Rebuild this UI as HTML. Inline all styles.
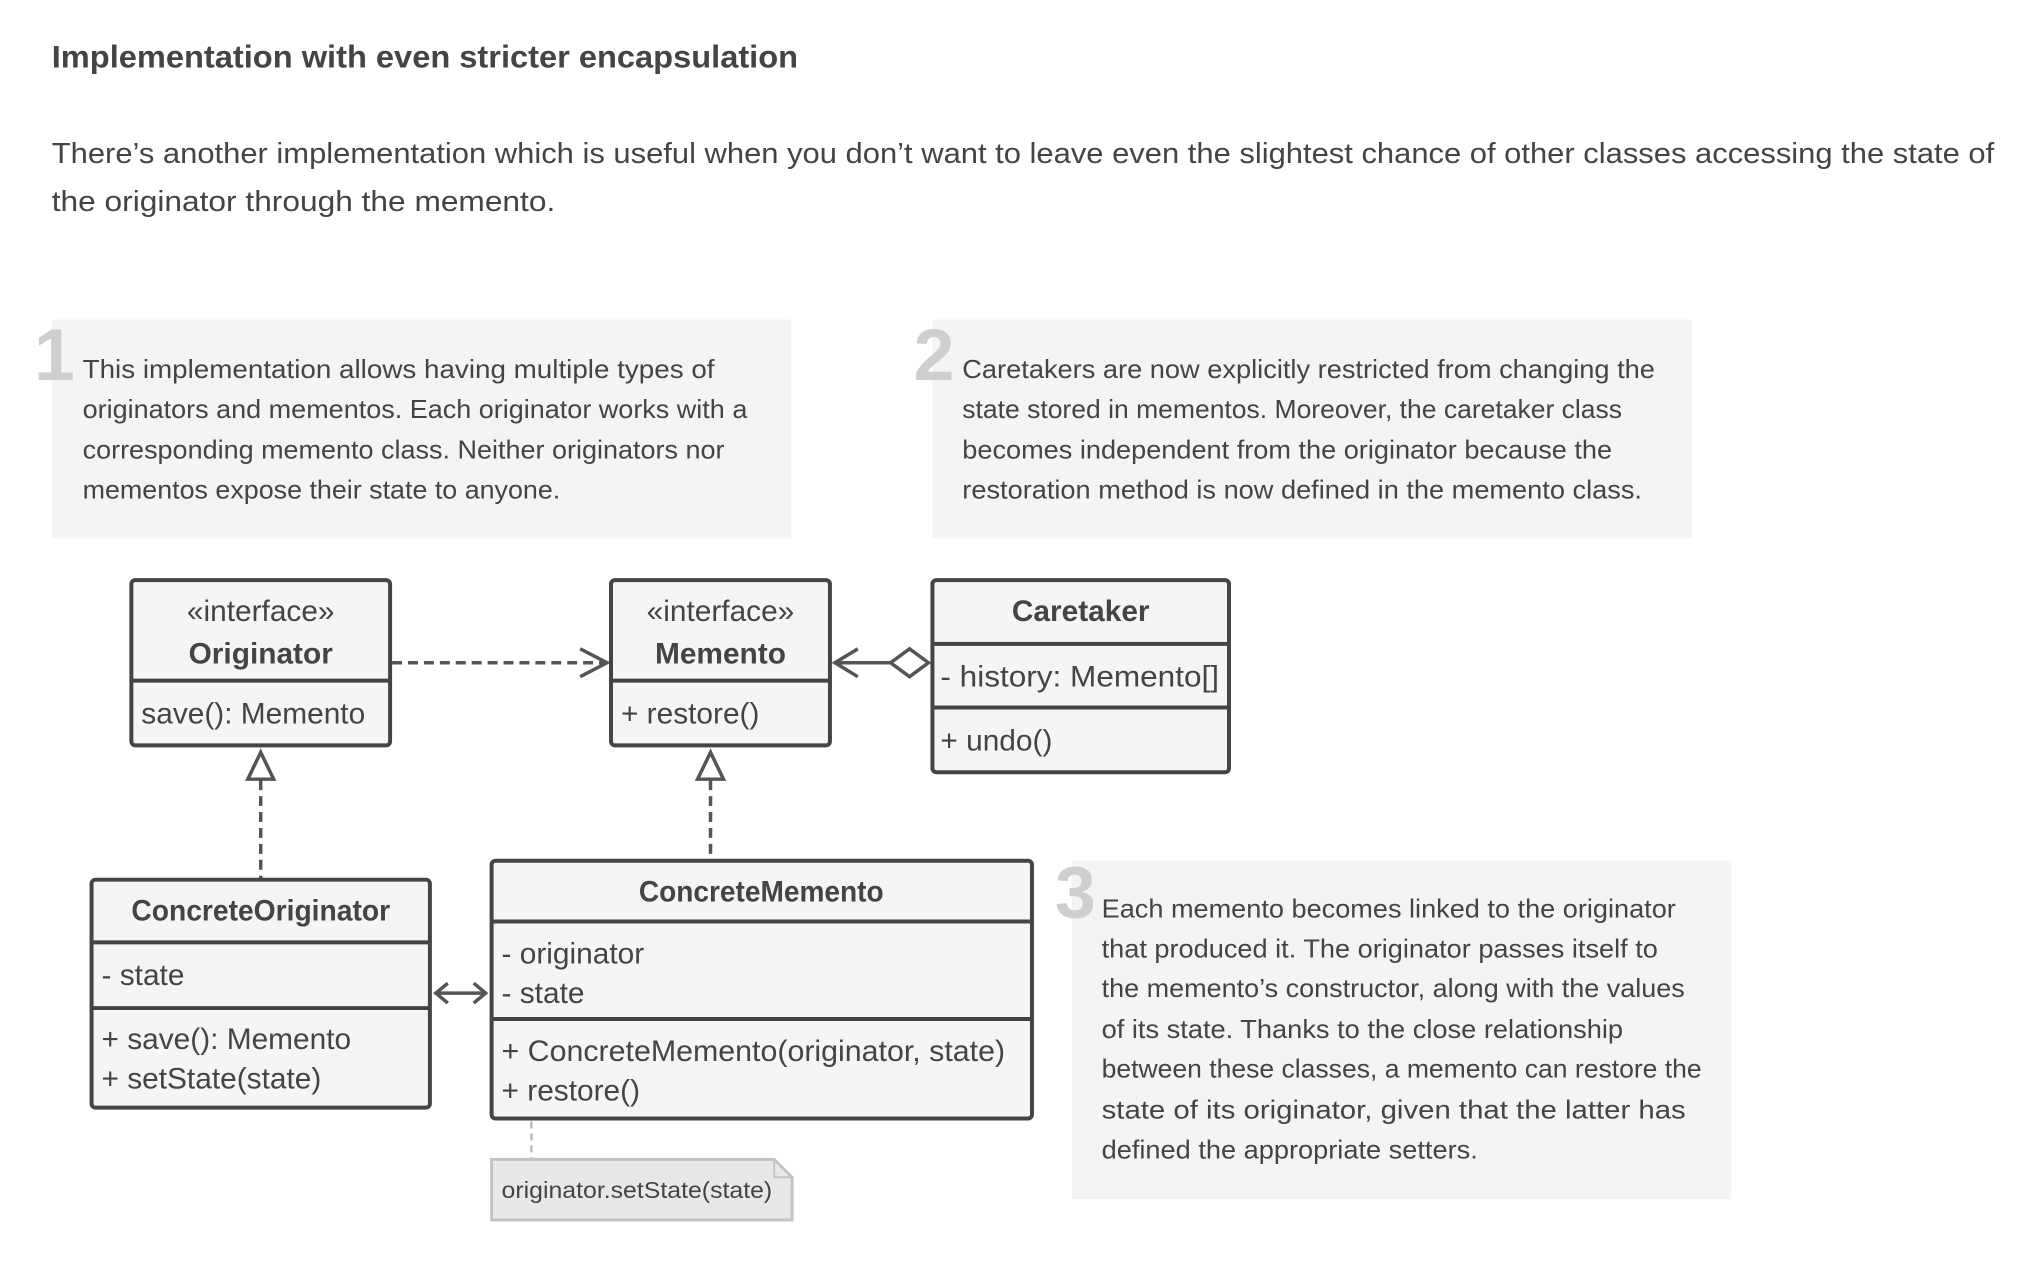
<!DOCTYPE html>
<html><head><meta charset="utf-8"><style>
html,body{margin:0;padding:0;background:#fff;}
svg{display:block;}
text{font-family:"Liberation Sans",sans-serif;fill:#444;}
</style></head><body>
<svg width="2044" height="1262" viewBox="0 0 2054 1268" preserveAspectRatio="xMinYMin meet" xmlns="http://www.w3.org/2000/svg">
<text x="52" y="68" font-size="32" font-weight="bold" fill="#444" textLength="750" lengthAdjust="spacingAndGlyphs">Implementation with even stricter encapsulation</text>
<text x="52" y="164" font-size="29" textLength="1952" lengthAdjust="spacingAndGlyphs">There’s another implementation which is useful when you don’t want to leave even the slightest chance of other classes accessing the state of</text>
<text x="52" y="212" font-size="29" textLength="506" lengthAdjust="spacingAndGlyphs">the originator through the memento.</text>

<rect x="52" y="321" width="743" height="220" fill="#f4f4f4"/>
<rect x="937" y="321" width="763" height="220" fill="#f4f4f4"/>
<rect x="1077" y="865" width="663" height="340" fill="#f4f4f4"/>
<g font-size="74" font-weight="bold" fill="#cfcfcf">
<text x="34" y="382" style="fill:#cfcfcf">1</text>
<text x="918" y="382" style="fill:#cfcfcf">2</text>
<text x="1060" y="922" style="fill:#cfcfcf">3</text>
</g>
<g font-size="26">
<text x="83" y="380" textLength="635" lengthAdjust="spacingAndGlyphs">This implementation allows having multiple types of</text>
<text x="83" y="420" textLength="668" lengthAdjust="spacingAndGlyphs">originators and mementos. Each originator works with a</text>
<text x="83" y="461" textLength="645" lengthAdjust="spacingAndGlyphs">corresponding memento class. Neither originators nor</text>
<text x="83" y="501" textLength="480" lengthAdjust="spacingAndGlyphs">mementos expose their state to anyone.</text>

<text x="967" y="380" textLength="696" lengthAdjust="spacingAndGlyphs">Caretakers are now explicitly restricted from changing the</text>
<text x="967" y="420" textLength="663" lengthAdjust="spacingAndGlyphs">state stored in mementos. Moreover, the caretaker class</text>
<text x="967" y="461" textLength="653" lengthAdjust="spacingAndGlyphs">becomes independent from the originator because the</text>
<text x="967" y="501" textLength="683" lengthAdjust="spacingAndGlyphs">restoration method is now defined in the memento class.</text>

<text x="1107" y="922" textLength="577" lengthAdjust="spacingAndGlyphs">Each memento becomes linked to the originator</text>
<text x="1107" y="962" textLength="559" lengthAdjust="spacingAndGlyphs">that produced it. The originator passes itself to</text>
<text x="1107" y="1002" textLength="586" lengthAdjust="spacingAndGlyphs">the memento’s constructor, along with the values</text>
<text x="1107" y="1043" textLength="524" lengthAdjust="spacingAndGlyphs">of its state. Thanks to the close relationship</text>
<text x="1107" y="1083" textLength="603" lengthAdjust="spacingAndGlyphs">between these classes, a memento can restore the</text>
<text x="1107" y="1124" textLength="587" lengthAdjust="spacingAndGlyphs">state of its originator, given that the latter has</text>
<text x="1107" y="1164" textLength="378" lengthAdjust="spacingAndGlyphs">defined the appropriate setters.</text>
</g>

<g stroke="#555" stroke-width="3.5" fill="none">
<line x1="394" y1="666" x2="608" y2="666" stroke-dasharray="10,6"/>
<polyline points="583,652 610,666 583,680"/>
<line x1="840" y1="666" x2="895" y2="666"/>
<polyline points="862,652 839,666 862,680"/>
<polygon points="895,666 914,652 933,666 914,680" fill="#fff"/>
<line x1="262" y1="784" x2="262" y2="884" stroke-dasharray="10,6"/>
<polygon points="262,756 249,783 275,783" fill="#fff"/>
<line x1="714" y1="784" x2="714" y2="865" stroke-dasharray="10,6"/>
<polygon points="714,756 701,783 727,783" fill="#fff"/>
<line x1="437" y1="998" x2="489" y2="998"/>
<polyline points="450,988 438,998 450,1008"/>
<polyline points="476,988 488,998 476,1008"/>
<line x1="534" y1="1127" x2="534" y2="1165" stroke="#bbb" stroke-width="2.5" stroke-dasharray="7,5"/>
</g>

<g fill="#f5f5f5" stroke="#444" stroke-width="4">
<rect x="132" y="583" width="260" height="166" rx="4"/>
<line x1="132" y1="684" x2="392" y2="684"/>
<rect x="614" y="583" width="220" height="166" rx="4"/>
<line x1="614" y1="684" x2="834" y2="684"/>
<rect x="937" y="583" width="298" height="193" rx="4"/>
<line x1="937" y1="647" x2="1235" y2="647"/>
<line x1="937" y1="711" x2="1235" y2="711"/>
<rect x="92" y="884" width="340" height="229" rx="4"/>
<line x1="92" y1="947" x2="432" y2="947"/>
<line x1="92" y1="1013" x2="432" y2="1013"/>
<rect x="494" y="865" width="543" height="259" rx="4"/>
<line x1="494" y1="926" x2="1037" y2="926"/>
<line x1="494" y1="1024" x2="1037" y2="1024"/>
</g>
<path d="M494 1165 H778 L796 1183 V1226 H494 Z" fill="#e8e8e8" stroke="#c4c4c4" stroke-width="3"/>
<path d="M778 1165 V1183 H796" fill="none" stroke="#c4c4c4" stroke-width="2"/>

<g font-size="30">
<text x="262" y="624" text-anchor="middle">«interface»</text>
<text x="262" y="667" text-anchor="middle" font-weight="bold">Originator</text>
<text x="142" y="727">save(): Memento</text>
<text x="724" y="624" text-anchor="middle">«interface»</text>
<text x="724" y="667" text-anchor="middle" font-weight="bold">Memento</text>
<text x="624" y="727">+ restore()</text>
<text x="1086" y="624" text-anchor="middle" font-weight="bold">Caretaker</text>
<text x="945" y="690" textLength="280" lengthAdjust="spacingAndGlyphs">- history: Memento[]</text>
<text x="945" y="754">+ undo()</text>
<text x="262" y="925" text-anchor="middle" font-weight="bold" textLength="260" lengthAdjust="spacingAndGlyphs">ConcreteOriginator</text>
<text x="102" y="990">- state</text>
<text x="102" y="1054">+ save(): Memento</text>
<text x="102" y="1094">+ setState(state)</text>
<text x="765" y="906" text-anchor="middle" font-weight="bold" textLength="246" lengthAdjust="spacingAndGlyphs">ConcreteMemento</text>
<text x="504" y="968">- originator</text>
<text x="504" y="1008">- state</text>
<text x="504" y="1066" textLength="506" lengthAdjust="spacingAndGlyphs">+ ConcreteMemento(originator, state)</text>
<text x="504" y="1106">+ restore()</text>
</g>
<text x="504" y="1204" font-size="23" textLength="272" lengthAdjust="spacingAndGlyphs">originator.setState(state)</text>
</svg>
</body></html>
